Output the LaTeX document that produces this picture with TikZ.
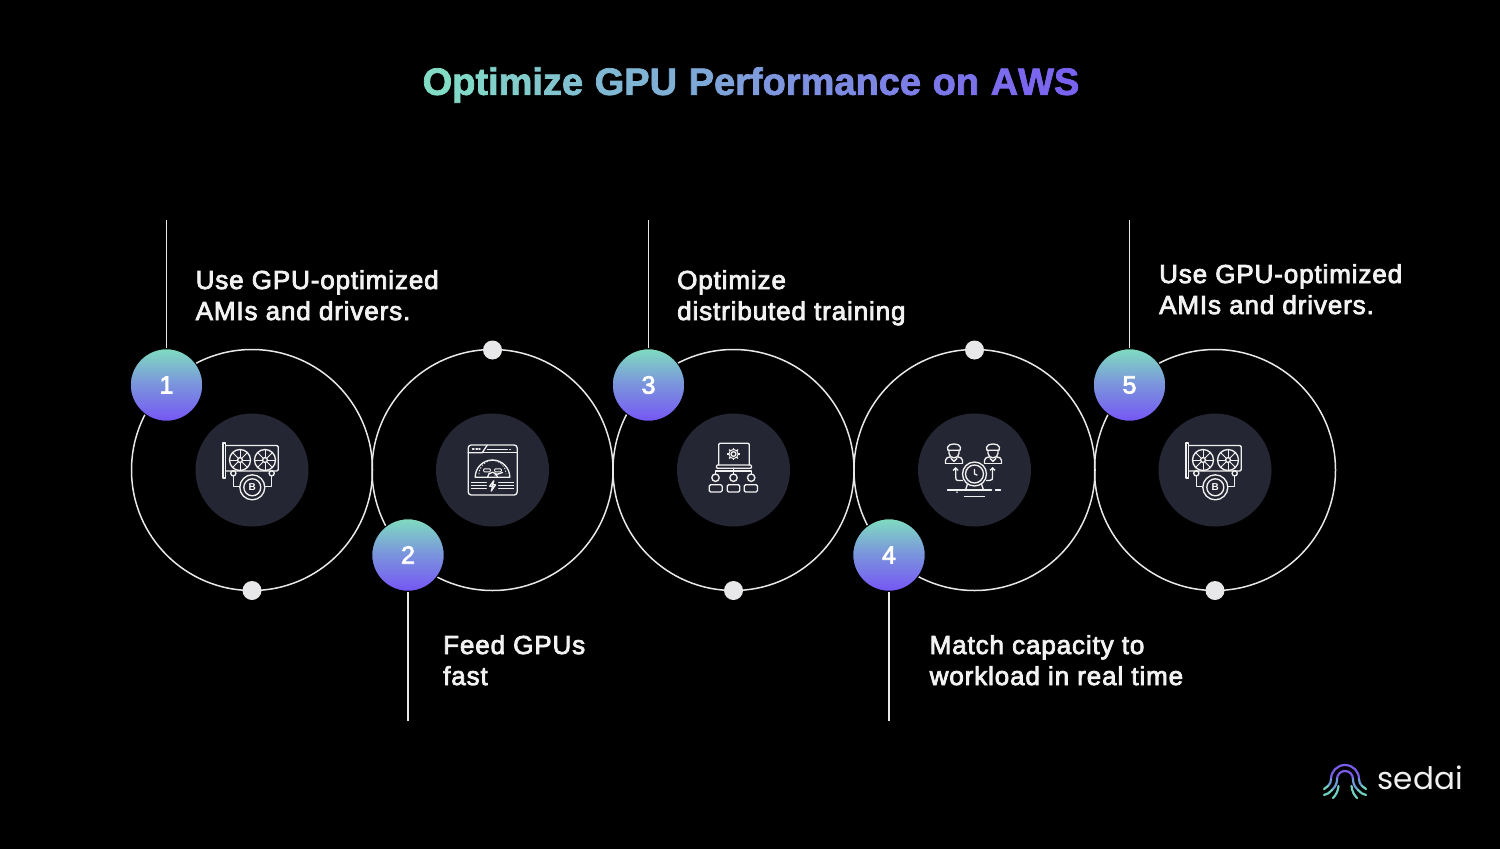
\documentclass[tikz,border=0pt]{standalone}
\usepackage{fontspec}
\setmainfont{Liberation Sans}
\newfontfamily\bodyfont[FakeBold=3,LetterSpace=3.4]{Liberation Sans}
\newfontfamily\numfont[FakeBold=3]{Liberation Sans}
\newfontfamily\titlefont[LetterSpace=2.8,FakeBold=2]{Liberation Sans Bold}
\newfontfamily\logofont{Poppins}
\usetikzlibrary{arrows.meta}
\definecolor{tA}{HTML}{82DCC5}
\definecolor{tB}{HTML}{7A62F0}
\definecolor{bA}{HTML}{7FDCC0}
\definecolor{bB}{HTML}{7656F5}
\definecolor{disc}{HTML}{252633}
\definecolor{ring}{HTML}{E8E8EA}
\definecolor{lgA}{HTML}{7A5CE8}
\definecolor{lgB}{HTML}{6F9AD8}
\definecolor{lgC}{HTML}{6FD0C0}
\newcommand{\gradch}[2]{\textcolor{tA!#1!tB}{#2}}
\tikzset{
  bigring/.style={circle,draw=ring,line width=1.5pt,minimum size=241pt,inner sep=0pt},
  innerdisc/.style={circle,fill=disc,minimum size=113pt,inner sep=0pt},
  bubble/.style={circle,draw=black,line width=1pt,top color=bA,bottom color=bB,middle color=bA!45!bB,minimum size=72.5pt,inner sep=0pt,text=white,font=\numfont\fontsize{25}{25}\selectfont},
  enddot/.style={circle,fill=ring,minimum size=19pt,inner sep=0pt},
  stem/.style={draw=ring,line width=1.3pt},
  label/.style={anchor=west,align=left,text=white!95!black,inner sep=0pt,font=\bodyfont\fontsize{26}{31}\selectfont},
  ic/.style={draw=white!94!black,line width=1.35pt,line join=round,line cap=round},
  gpuicon/.pic={
    \draw[ic] (-29,-27) rectangle (-26.3,8);
    \draw[ic] (-26.3,-24.5) -- (24,-24.5) [rounded corners=1.5pt] -- (26.3,-24.5) -- (26.3,1) -- (-26.3,1);
    \foreach \cx in {-12,13}{
      \draw[ic] (\cx,-10) circle (10.5);
      \draw[ic] (\cx,-10) circle (2.4);
      \foreach \a in {0,45,...,315}{
        \draw[ic,line width=1pt] (\cx,-10) ++(\a:2.4) -- ++(\a:8);
      }
    }
    \draw[ic] (-18.7,3.3) circle (2.6);
    \draw[ic] (19.7,3.3) circle (2.6);
    \draw[ic] (-18.7,6) -- (-18.7,16.5) -- (-12,16.5);
    \draw[ic] (19.7,6) -- (19.7,16.5) -- (12.5,16.5);
    \draw[ic,fill=disc] (0.3,17.3) circle (12.5);
    \draw[ic] (0.3,17.3) circle (8.5);
    \node[text=white,inner sep=0pt,font=\bfseries\fontsize{10}{10}\selectfont] at (0.3,17.5) {B};
  },
  speedicon/.pic={
    \draw[ic,rounded corners=3pt] (-24.3,-25) rectangle (24.7,25);
    \draw[ic] (-24.3,-17.3) -- (-10.3,-17.3) -- (-5.3,-24.8);
    \draw[ic] (-10.3,-17.3) -- (24.7,-17.3);
    \draw[ic] (-20,-21) -- (-18.5,-21) (-16.5,-21) -- (-15,-21) (-13.5,-21) -- (-12.5,-21);
    \draw[ic] (-5,-20.7) -- (14.7,-20.7) (17.3,-20.7) -- (17.9,-20.7);
    \draw[ic] (-17.3,7.3) arc (180:360:17.3 and 17.3) -- cycle;
    \draw[ic,line width=.8pt,dash pattern=on 1pt off 2pt] (-13.5,4) arc (180:360:13.5 and 13.5);
    \draw[ic,line width=.9pt,rounded corners=1pt] (-9,-1.2) rectangle (-2,1.8);
    \draw[ic,line width=.9pt,rounded corners=1pt] (2,-1.2) rectangle (9,1.8);
    \draw[ic] (-5,7.3) arc (180:360:5 and 5);
    \draw[ic] (2.5,5) -- (10,2.5);
    \foreach \yy in {12.7,15.5,18.7}{
      \draw[ic] (-21,\yy) -- (-6.3,\yy) (6.3,\yy) -- (21,\yy);
    }
    \draw[ic] (1.3,10.8) -- (-2.8,16.2) -- (0.2,16.2) -- (-1.2,21) -- (3,14.8) -- (0.2,14.8) -- cycle;
  },
  neticon/.pic={
    \draw[ic,rounded corners=1pt] (-14.7,-5) -- (-14.7,-26.7) -- (15.7,-26.7) -- (15.7,-5);
    \draw[ic,rounded corners=1pt] (-17,-5) rectangle (18,-1.7);
    \draw[ic] (0,-16) circle (2.4);
    \draw[ic,line width=1pt] (0,-16) circle (4.6);
    \foreach \a in {0,45,...,315}{
      \draw[ic,line width=1.4pt,line cap=butt] (0,-16) ++(\a:4.6) -- ++(\a:1.6);
    }
    \draw[ic] (0,-1.7) -- (0,4);
    \draw[ic] (-18,4) -- (-18,1) -- (17.7,1) -- (17.7,4);
    \foreach \cx/\xa/\xb in {-18/-24.3/-11.3,0/-6.3/6.3,17.7/10.7/24}{
      \draw[ic] (\cx,7.7) circle (3.7);
      \draw[ic,rounded corners=1.5pt] (\xa,22) -- (\xa,14.7) -- (\xb,14.7) -- (\xb,22) -- cycle;
    }
  },
  clockicon/.pic={
    \foreach \cx in {-20.5,18.5}{
      \begin{scope}[shift={(\cx,-16.7)}]
        \draw[ic] (-6.5,-6) .. controls (-6,-10.5) and (6,-10.5) .. (6.5,-6) -- (6,-3) -- (-6,-3) -- cycle;
        \draw[ic] (-5,-3) -- (-5,0) .. controls (-5,6) and (5,6) .. (5,0) -- (5,-3);
        \draw[ic] (-8.5,10) -- (-8.5,7) .. controls (-8.5,4.5) and (-6,4) .. (-3.5,3.5);
        \draw[ic] (8.5,10) -- (8.5,7) .. controls (8.5,4.5) and (6,4) .. (3.5,3.5);
        \draw[ic] (-8.5,10) -- (8.5,10);
        \draw[ic] (-3,5) -- (0,8) -- (3,5);
      \end{scope}
    }
    \draw[ic] (0,4) circle (12);
    \draw[ic] (0,4) circle (9);
    \draw[ic] (0,-.5) -- (0,4) -- (2.5,5);
    \draw[ic] (-7,14) -- (-9,20) (7,14) -- (9,20);
    \draw[ic] (-27,20) -- (17,20) (21,20) -- (26,20);
    \draw[ic] (-10,26.7) -- (10,26.7);
    \draw[ic] (-17.5,22) -- (-17.5,22.2);
    \draw[ic,->,>={Straight Barb[length=2.5pt,width=5pt]}] (-12,10.5) -- (-15.5,10.5) .. controls (-18.8,10.5) and (-18.8,9) .. (-18.8,7) -- (-18.8,-3);
    \draw[ic,->,>={Straight Barb[length=2.5pt,width=5pt]}] (12,10.5) -- (15,10.5) .. controls (18,10.5) and (18,9) .. (18,7) -- (18,-3);
  }
}
\begin{document}
\begin{tikzpicture}[x=1pt,y=-1pt]
\fill[black] (0,0) rectangle (1500,849);
\useasboundingbox (0,0) rectangle (1500,849);

% title
\node[inner sep=0pt,font=\titlefont\fontsize{38}{38}\selectfont] (title) at (751,85) {%
\gradch{100}{O}\gradch{97}{p}\gradch{93}{t}\gradch{90}{i}\gradch{87}{m}\gradch{83}{i}\gradch{80}{z}\gradch{77}{e} %
\gradch{70}{G}\gradch{67}{P}\gradch{63}{U} %
\gradch{57}{P}\gradch{53}{e}\gradch{50}{r}\gradch{47}{f}\gradch{43}{o}\gradch{40}{r}\gradch{37}{m}\gradch{33}{a}\gradch{30}{n}\gradch{27}{c}\gradch{23}{e} %
\gradch{17}{o}\gradch{13}{n} %
\gradch{7}{A}\gradch{3}{W}\gradch{0}{S}};

% big rings and discs
\foreach \n/\x in {1/252,2/492.5,3/733.5,4/974.5,5/1215}{
  \node[bigring] (ring\n) at (\x,470) {};
  \node[innerdisc] (disc\n) at (\x,470) {};
}
% icons
\pic at (disc1) {gpuicon};
\pic at (disc2) {speedicon};
\pic at (disc3) {neticon};
\pic at (disc4) {clockicon};
\pic at (disc5) {gpuicon};

% end dots
\node[enddot] (dot1) at (252,590.5) {};
\node[enddot] (dot2) at (492.5,350) {};
\node[enddot] (dot3) at (733.5,590.5) {};
\node[enddot] (dot4) at (974.5,350) {};
\node[enddot] (dot5) at (1215,590.5) {};

% bubbles
\node[bubble] (b1) at (166.5,385) {1};
\node[bubble] (b2) at (408,555) {2};
\node[bubble] (b3) at (648.5,385) {3};
\node[bubble] (b4) at (889,555) {4};
\node[bubble] (b5) at (1129.5,385) {5};

% stems
\coordinate (s1) at (166.5,220);
\coordinate (s2) at (408,721);
\coordinate (s3) at (648.5,220);
\coordinate (s4) at (889,721);
\coordinate (s5) at (1129.5,220);
\draw[stem] (s1) -- (b1);
\draw[stem] (s2) -- (b2);
\draw[stem] (s3) -- (b3);
\draw[stem] (s4) -- (b4);
\draw[stem] (s5) -- (b5);

% labels
\node[label] (t1) at (195.5,298.3) {\strut Use GPU-optimized\\\strut AMIs and drivers.};
\node[label] (t2) at (443,663.3) {\strut Feed GPUs\\\strut fast};
\node[label] (t3) at (677,298.3) {\strut Optimize\\\strut distributed training};
\node[label] (t4) at (929.5,663.3) {\strut Match capacity to\\\strut workload in real time};
\node[label] (t5) at (1159,292.3) {\strut Use GPU-optimized\\\strut AMIs and drivers.};

% logo
\begin{scope}[shift={(1345,778)},line cap=round,line width=2.2pt]
  \draw[lgA] (-14,1) arc (180:360:14 and 14);
  \draw[lgA] (-8,1) arc (180:360:8 and 8);
  \draw[lgB] (-14,1) .. controls (-14,4) and (-15,6) .. (-17,8);
  \draw[lgB] (14,1) .. controls (14,4) and (15,6) .. (17,8);
  \draw[lgB] (-8,1) .. controls (-8,5) and (-9,8) .. (-13,12);
  \draw[lgB] (8,1) .. controls (8,5) and (9,8) .. (13,12);
  \draw[lgC] (-17,8) -- (-21,11);
  \draw[lgC] (17,8) -- (21,11);
  \draw[lgC] (-13,12) .. controls (-15,15) and (-18,16) .. (-21,17);
  \draw[lgC] (13,12) .. controls (15,15) and (18,16) .. (21,17);
  \draw[lgC] (-6.5,8) .. controls (-7,13) and (-9,17) .. (-12,20);
  \draw[lgC] (6.5,8) .. controls (7,13) and (9,17) .. (12,20);
\end{scope}
\node[inner sep=0pt,anchor=west,text=white!94!black,font=\logofont\fontsize{31}{33}\selectfont] (logo) at (1377.5,778) {sedai};
\end{tikzpicture}
\end{document}
